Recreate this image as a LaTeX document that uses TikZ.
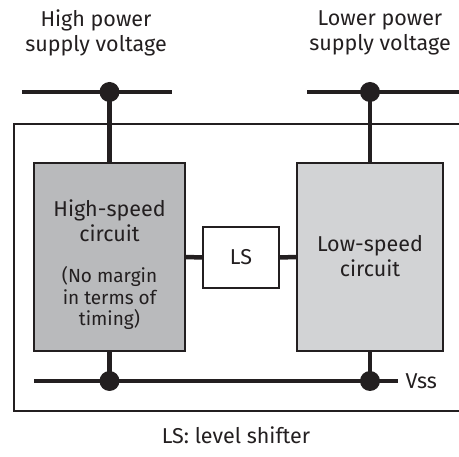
\documentclass[tikz,border=0pt]{standalone}
\usepackage{fontspec}
\setmainfont{Fira Sans}
\usetikzlibrary{positioning}
\definecolor{ink}{HTML}{231F20}
\definecolor{hsgray}{HTML}{B9BABC}
\definecolor{lsgray}{HTML}{D2D3D5}

\begin{document}
\begin{tikzpicture}[x=1pt, y=-1pt, ink,
    rail/.style={line width=4.5pt},
    dot/.style={circle, fill=ink, inner sep=0pt, minimum size=20pt},
    block/.style={draw, line width=1.2pt, inner sep=0pt, minimum height=188pt},
    lbl/.style={text=ink, align=center, font=\fontsize{21.5}{25}\selectfont},
    sublbl/.style={text=ink, align=center, font=\fontsize{19}{21.5}\selectfont}]
    \useasboundingbox (0,0) rectangle (459,457);
    % chip outline
    \draw[line width=2pt] (459,124) -| (14,411) -- (459,411);
    % circuit blocks
    \node[block, fill=hsgray, minimum width=151pt] (hs) at (109.5,257) {};
    \node[block, fill=lsgray, minimum width=146pt] (ls) at (370,257) {};
    \node[block, fill=white, minimum width=76pt, minimum height=61pt, lbl] (shift) at (241,257.5) {LS};
    \node[lbl] at (109.5,221) {High-speed\\circuit};
    \node[sublbl] at (109.5,298) {(No margin\\in terms of\\timing)};
    \node[lbl] at (370,256) {Low-speed\\circuit};
    % supply rails
    \coordinate (hpl) at (22,92);
    \coordinate (hpr) at (172,92);
    \coordinate (hpj) at (hs.north |- hpl);
    \coordinate (lpl) at (307,92);
    \coordinate (lpr) at (459,92);
    \coordinate (lpj) at (ls.north |- lpl);
    \coordinate (vssl) at (34,381);
    \coordinate (vssr) at (398,381);
    \coordinate (vssa) at (hs.south |- vssl);
    \coordinate (vssb) at (ls.south |- vssl);
    \draw[rail] (hpl) -- (hpr);
    \draw[rail] (lpl) -- (lpr);
    \draw[rail] (vssl) -- (vssr);
    \draw[rail] (hpj) -- (hs.north);
    \draw[rail] (lpj) -- (ls.north);
    \draw[rail] (hs.south) -- (vssa);
    \draw[rail] (ls.south) -- (vssb);
    \draw[rail] (hs.east) -- (shift.west);
    \draw[rail] (shift.east) -- (ls.west);
    \node[dot] (hpdot) at (hpj) {};
    \node[dot] (lpdot) at (lpj) {};
    \node[dot] (vssdota) at (vssa) {};
    \node[dot] (vssdotb) at (vssb) {};
    % labels
    \node[lbl, anchor=west] (vss) at (402,381) {Vss};
    \node[lbl] (hpv) at (96,33) {High power\\supply voltage};
    \node[lbl] (lpv) at (380,33) {Lower power\\supply voltage};
    \node[lbl] (note) at (236,435) {LS: level shifter};
\end{tikzpicture}
\end{document}
